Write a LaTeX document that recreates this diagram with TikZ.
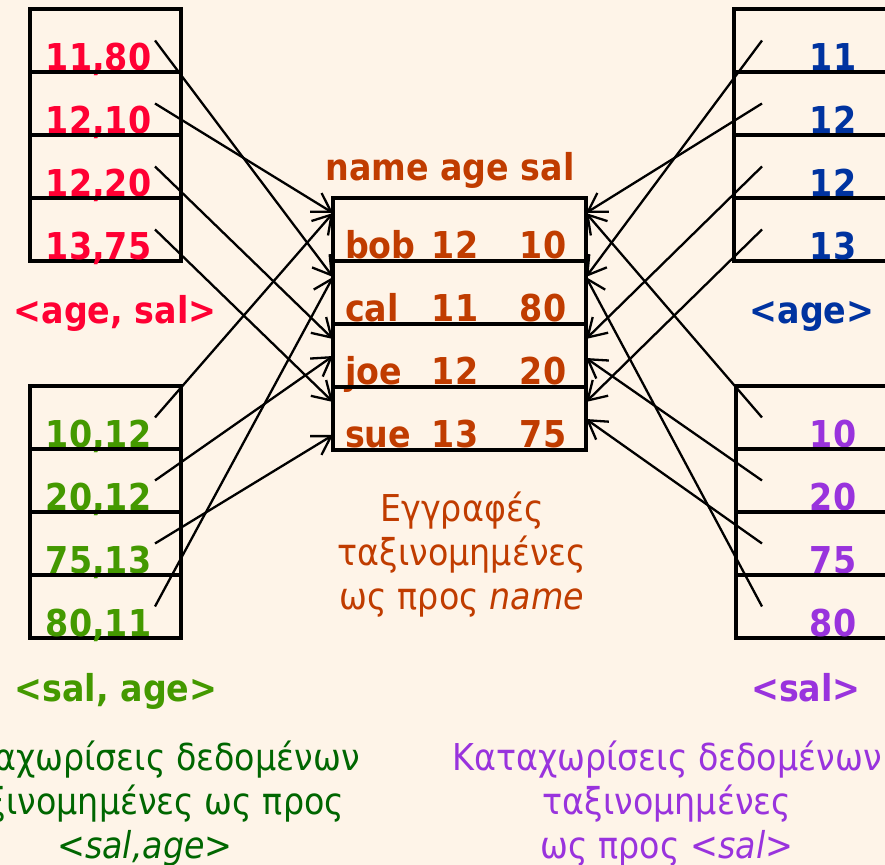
\documentclass[tikz,border=0pt]{standalone}
\usepackage{fontspec}
\setmainfont{DejaVu Sans}[FakeStretch=0.9]
\usetikzlibrary{
  arrows.meta,  % Straight Barb 箭头
  calc,         % 坐标计算
  positioning   % 节点相对定位
}

\definecolor{bgcream}{HTML}{FEF4E8}
\definecolor{keyred}{HTML}{FF0033}
\definecolor{keygreen}{HTML}{449900}
\definecolor{keyblue}{HTML}{0033A0}
\definecolor{keypurple}{HTML}{9933DD}
\definecolor{recbrown}{HTML}{C03C00}
\definecolor{entgreen}{HTML}{006600}

\begin{document}
\begin{tikzpicture}[x=0.5pt, y=-0.5pt,
  >={Straight Barb[length=9pt,width=11pt]}, line width=1.15pt,
  cell/.style={draw, line width=1.6pt, minimum width=75.5pt,
    minimum height=31.5pt, inner sep=0pt, outer sep=0pt},
  keytxt/.style={font=\fontsize{18.5pt}{22pt}\selectfont\bfseries,
    inner sep=0pt, anchor=base},
  captxt/.style={font=\fontsize{18.5pt}{22pt}\selectfont,
    inner sep=0pt, align=center}]

  % 画布与底色
  \useasboundingbox (0,0) rectangle (885,865);
  \clip (0,0) rectangle (885,865);
  \fill[bgcream] (0,0) rectangle (885,865);

  % =========== 左上：<age, sal> 索引 ===========
  \foreach \t [count=\i] in {{11,80},{12,10},{12,20},{13,75}} {
    \node[cell] (as\i) at (105.5, -22.5+63*\i) {};
    \node[keytxt, text=keyred] (ast\i) at ($(as\i.south)+(-7,-1)$) {\t};
  }
  \node[keytxt, text=keyred] (aslab) at (115,324) {<age, sal>};

  % =========== 左下：<sal, age> 索引 ===========
  \foreach \t [count=\i] in {{10,12},{20,12},{75,13},{80,11}} {
    \node[cell] (sa\i) at (105.5, 354.5+63*\i) {};
    \node[keytxt, text=keygreen] (sat\i) at ($(sa\i.south)+(-7,-1)$) {\t};
  }
  \node[keytxt, text=keygreen] (salab) at (116,702) {<sal, age>};

  % =========== 中间：按 name 排序的记录 ===========
  \node[keytxt, text=recbrown] (head) at (450,181) {name age sal};
  \foreach \n/\a/\s [count=\i] in {bob/12/10, cal/11/80, joe/12/20, sue/13/75} {
    \node[cell, minimum width=126.5pt] (m\i) at (459.5, 166.5+63*\i) {};
    \node[keytxt, text=recbrown, anchor=base west] (mn\i)
      at ($(m\i.south west)+(11,-2)$) {\n};
    \node[keytxt, text=recbrown] (ma\i) at ($(m\i.south west)+(122,-2)$) {\a};
    \node[keytxt, text=recbrown] (ms\i) at ($(m\i.south west)+(210,-2)$) {\s};
  }
  \node[captxt, text=recbrown] (reccap) at (462,555)
    {Εγγραφές\\ταξινομημένες\\ως προς \textit{name}};

  % =========== 右上：<age> 索引 (右侧超出画布) ===========
  \foreach \t [count=\i] in {11,12,12,13} {
    \node[cell, minimum width=100pt] (ag\i) at (834, -22.5+63*\i) {};
    \node[keytxt, text=keyblue] (agt\i) at ($(ag\i.south west)+(99,-1)$) {\t};
  }
  \node[keytxt, text=keyblue] (aglab) at (812,324) {<age>};

  % =========== 右下：<sal> 索引 ===========
  \foreach \t [count=\i] in {10,20,75,80} {
    \node[cell, minimum width=100pt] (sl\i) at (836, 354.5+63*\i) {};
    \node[keytxt, text=keypurple] (slt\i) at ($(sl\i.south west)+(97,-1)$) {\t};
  }
  \node[keytxt, text=keypurple] (sllab) at (806,702) {<sal>};

  % 底部说明文字 (左侧一段超出画布)
  \node[captxt, text=entgreen] (sacap) at (145,804)
    {Καταχωρίσεις δεδομένων\\ταξινομημένες ως προς\\\textit{<sal,age>}};
  \node[captxt, text=keypurple] (slcap) at (667,804)
    {Καταχωρίσεις δεδομένων\\ταξινομημένες\\ως προς \textit{<sal>}};

  % =========== 指针：索引项 -> 记录 ===========
  % 格式：索引行/记录行/距记录行上沿的偏移
  \foreach \i/\j/\d in {1/2/16, 2/1/15, 3/3/15, 4/4/15}
    \draw[->] ($(as\i.west)+(125,0)$) -- ($(m\j.north west)+(0,\d)$);
  \foreach \i/\j/\d in {1/1/15, 2/3/32, 3/4/48, 4/2/16}
    \draw[->] ($(sa\i.west)+(125,0)$) -- ($(m\j.north west)+(0,\d)$);
  \foreach \i/\j/\d in {1/2/16, 2/1/15, 3/3/15, 4/4/15}
    \draw[->] ($(ag\i.west)+(28,0)$) -- ($(m\j.north east)+(0,\d)$);
  \foreach \i/\j/\d in {1/1/15, 2/3/34, 3/4/32, 4/2/16}
    \draw[->] ($(sl\i.west)+(26,0)$) -- ($(m\j.north east)+(0,\d)$);

\end{tikzpicture}
\end{document}
